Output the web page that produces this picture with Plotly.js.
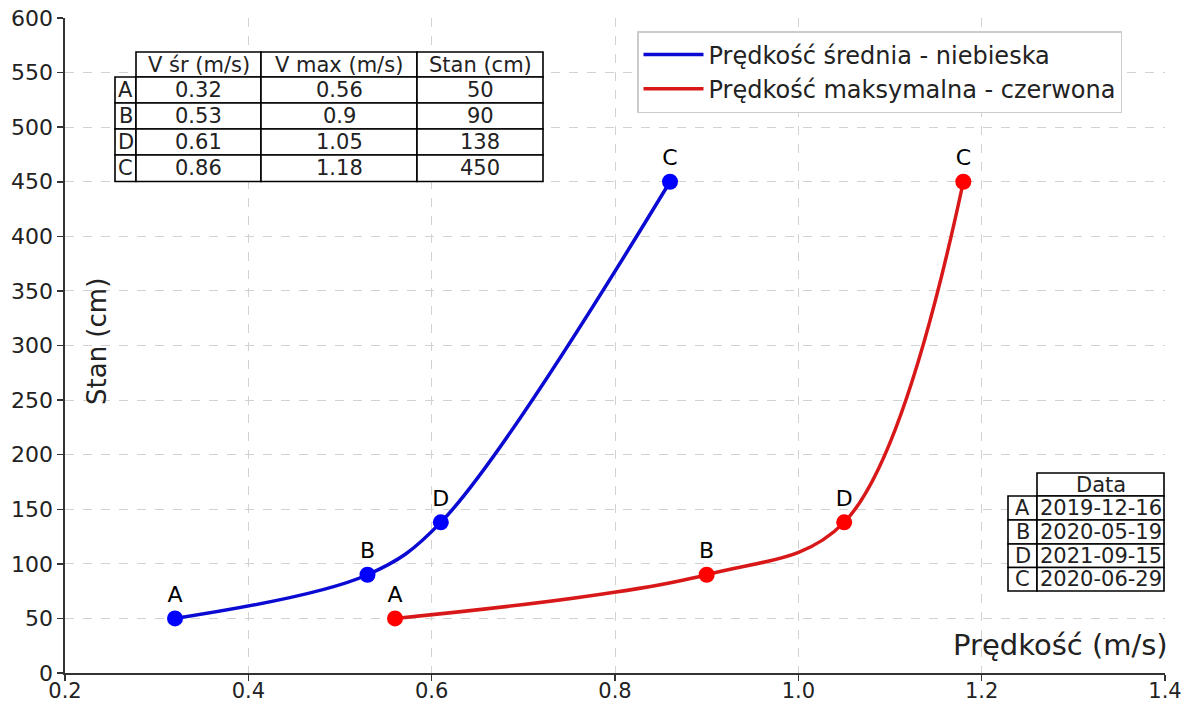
<!DOCTYPE html>
<html>
<head>
<meta charset="utf-8">
<script src="https://cdn.plot.ly/plotly-3.0.1.min.js"></script>
<style>html,body{margin:0;padding:0;background:#fff;}#chart{width:1195px;height:704px;}</style>
</head>
<body>
<div id="chart"></div>
<script>
// ---- data ----
const pointLabels = ['A', 'B', 'D', 'C'];
const vSr = [0.32, 0.53, 0.61, 0.86];
const vMax = [0.56, 0.9, 1.05, 1.18];
const stan = [50, 90, 138, 450];
const dates = ['2019-12-16', '2020-05-19', '2021-09-15', '2020-06-29'];
const table1Header = ['V śr (m/s)', 'V max (m/s)', 'Stan (cm)'];
const table2Header = ['Data'];
const seriesNames = ['Prędkość średnia - niebieska', 'Prędkość maksymalna - czerwona'];
const xTickVals = [0.2, 0.4, 0.6, 0.8, 1.0, 1.2, 1.4];
const xTickText = ['0.2', '0.4', '0.6', '0.8', '1.0', '1.2', '1.4'];
const yTickVals = [0, 50, 100, 150, 200, 250, 300, 350, 400, 450, 500, 550, 600];
const xTitle = 'Prędkość (m/s)';
const yTitle = 'Stan (cm)';

// ---- geometry helpers (plot area in px) ----
const PL = 65, PR = 1165, PT = 18, PB = 673;
const px = x => (x - PL) / (PR - PL);
const py = y => (PB - y) / (PB - PT);
const FONT = 'DejaVu Sans, Liberation Sans, sans-serif';
const TXT = '#222222';

const shapes = [];
const annotations = [];

function cell(x0, x1, y0, y1, text, size) {
  shapes.push({type: 'rect', xref: 'paper', yref: 'paper',
    x0: px(x0), x1: px(x1), y0: py(y1), y1: py(y0),
    line: {color: '#000', width: 1.6}, fillcolor: '#fff', layer: 'above'});
  annotations.push({xref: 'paper', yref: 'paper', x: px((x0 + x1) / 2), y: py((y0 + y1) / 2),
    xanchor: 'center', yanchor: 'middle', text: text, showarrow: false,
    font: {family: FONT, size: size, color: TXT}});
}

function drawTable(labelLeft, colEdges, headerTop, rowEdges, headers, columns, size) {
  headers.forEach((h, j) => cell(colEdges[j], colEdges[j + 1], headerTop, rowEdges[0], h, size));
  pointLabels.forEach((lab, i) => {
    cell(labelLeft, colEdges[0], rowEdges[i], rowEdges[i + 1], lab, size);
    columns.forEach((col, j) => cell(colEdges[j], colEdges[j + 1], rowEdges[i], rowEdges[i + 1], String(col[i]), size));
  });
}

drawTable(115, [136, 261, 417, 543], 52, [77, 103, 129, 155, 181.5], table1Header, [vSr, vMax, stan], 21);
drawTable(1008, [1037, 1164], 473, [496, 520, 544, 567.5, 591], table2Header, [dates], 21);

annotations.push({xref: 'paper', yref: 'paper', x: px(1170), y: py(645), xanchor: 'right', yanchor: 'middle',
  text: xTitle, showarrow: false, font: {family: FONT, size: 29, color: TXT}});
annotations.push({xref: 'paper', yref: 'paper', x: px(97), y: py(342), xanchor: 'center', yanchor: 'middle',
  text: yTitle, textangle: -90, showarrow: false, font: {family: FONT, size: 26, color: TXT}});

const blueLine = '#0a0ad2', redLine = '#d81818';

const traces = [
  {x: vSr, y: stan, mode: 'lines', name: seriesNames[0],
   line: {color: blueLine, width: 3.5, shape: 'spline', smoothing: 1}},
  {x: vMax, y: stan, mode: 'lines', name: seriesNames[1],
   line: {color: redLine, width: 3.5, shape: 'spline', smoothing: 1}},
  {x: vSr, y: stan, mode: 'markers+text', showlegend: false, text: pointLabels,
   textposition: 'top center', textfont: {family: FONT, size: 22, color: '#000'},
   marker: {color: '#0000ff', size: 16}, cliponaxis: false, hoverinfo: 'x+y'},
  {x: vMax, y: stan, mode: 'markers+text', showlegend: false, text: pointLabels,
   textposition: 'top center', textfont: {family: FONT, size: 22, color: '#000'},
   marker: {color: '#ff0000', size: 16}, cliponaxis: false, hoverinfo: 'x+y'}
];

const layout = {
  width: 1195, height: 704,
  margin: {l: PL, r: 1195 - PR, t: PT, b: 704 - PB, pad: 0},
  paper_bgcolor: '#fff', plot_bgcolor: '#fff',
  font: {family: FONT, color: TXT},
  xaxis: {range: [0.2, 1.4], tickvals: xTickVals, ticktext: xTickText,
    showgrid: true, gridcolor: '#d2d2d2', griddash: 'dash', gridwidth: 1,
    showline: true, linecolor: '#333', linewidth: 1.6, mirror: false,
    ticks: 'outside', ticklen: 6, tickwidth: 1.5, tickcolor: '#333', ticklabelstandoff: -8,
    tickfont: {family: FONT, size: 21, color: TXT}, zeroline: false, automargin: false,
    title: {text: ''}},
  yaxis: {range: [0, 600], tickvals: yTickVals,
    showgrid: true, gridcolor: '#d2d2d2', griddash: 'dash', gridwidth: 1,
    showline: true, linecolor: '#333', linewidth: 1.6, mirror: false,
    ticks: 'outside', ticklen: 6, tickwidth: 1.5, tickcolor: '#333',
    tickfont: {family: FONT, size: 22, color: TXT}, zeroline: false, automargin: false,
    title: {text: ''}},
  legend: {x: px(637), y: py(31), xanchor: 'left', yanchor: 'top',
    bgcolor: '#fff', bordercolor: '#cccccc', borderwidth: 1.5,
    font: {family: FONT, size: 24, color: TXT}, itemwidth: 60},
  shapes: shapes,
  annotations: annotations,
  showlegend: true
};

Plotly.newPlot('chart', traces, layout, {displayModeBar: false, staticPlot: true});
</script>
</body>
</html>
